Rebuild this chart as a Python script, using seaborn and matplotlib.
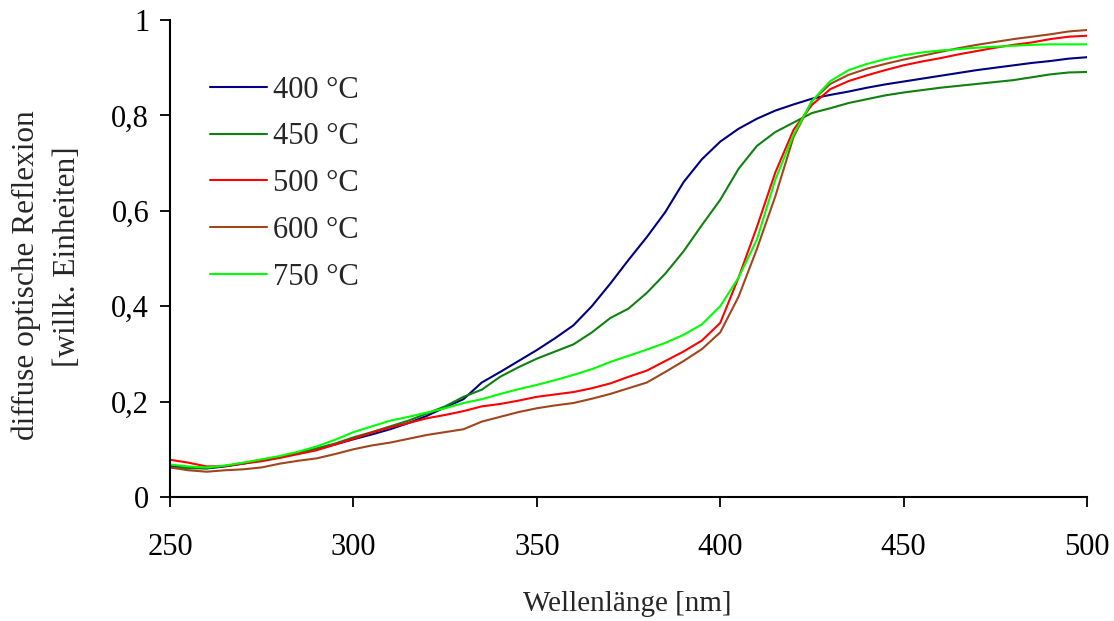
import matplotlib
matplotlib.use("Agg")
import matplotlib.pyplot as plt
import seaborn as sns
import pandas as pd
import numpy as np
from matplotlib.ticker import FuncFormatter

wavelength = list(range(250, 501, 5))

r400 = [0.065, 0.062, 0.060, 0.064, 0.070, 0.077, 0.084, 0.092, 0.100, 0.110,
        0.121, 0.131, 0.142, 0.155, 0.170, 0.188, 0.205, 0.240, 0.262, 0.285,
        0.308, 0.333, 0.360, 0.400, 0.447, 0.497, 0.545, 0.597, 0.660, 0.708,
        0.745, 0.772, 0.793, 0.810, 0.823, 0.835, 0.843, 0.850, 0.858, 0.865,
        0.871, 0.877, 0.883, 0.889, 0.895, 0.900, 0.905, 0.910, 0.914, 0.919,
        0.922]
r450 = [0.062, 0.060, 0.060, 0.065, 0.071, 0.078, 0.084, 0.092, 0.102, 0.112,
        0.125, 0.136, 0.148, 0.160, 0.175, 0.190, 0.210, 0.225, 0.252, 0.272,
        0.290, 0.305, 0.320, 0.345, 0.375, 0.395, 0.428, 0.468, 0.515, 0.570,
        0.623, 0.688, 0.736, 0.765, 0.785, 0.805, 0.815, 0.826, 0.834, 0.842,
        0.848, 0.853, 0.858, 0.862, 0.866, 0.870, 0.874, 0.880, 0.886, 0.890,
        0.891]
r500 = [0.078, 0.072, 0.064, 0.065, 0.070, 0.075, 0.082, 0.090, 0.098, 0.110,
        0.122, 0.135, 0.146, 0.155, 0.165, 0.172, 0.180, 0.190, 0.195, 0.202,
        0.210, 0.215, 0.220, 0.228, 0.238, 0.252, 0.265, 0.285, 0.305, 0.328,
        0.365, 0.460, 0.566, 0.680, 0.770, 0.822, 0.855, 0.872, 0.884, 0.895,
        0.905, 0.913, 0.920, 0.928, 0.935, 0.942, 0.948, 0.953, 0.960, 0.965,
        0.967]
r600 = [0.062, 0.056, 0.053, 0.056, 0.058, 0.062, 0.070, 0.076, 0.081, 0.090,
        0.100, 0.108, 0.114, 0.122, 0.130, 0.136, 0.142, 0.158, 0.168, 0.178,
        0.186, 0.192, 0.197, 0.206, 0.216, 0.228, 0.240, 0.262, 0.285, 0.310,
        0.345, 0.420, 0.520, 0.630, 0.755, 0.830, 0.866, 0.885, 0.898, 0.908,
        0.917, 0.925, 0.933, 0.941, 0.948, 0.954, 0.960, 0.965, 0.970, 0.976,
        0.979]
r750 = [0.068, 0.064, 0.062, 0.066, 0.072, 0.079, 0.086, 0.095, 0.106, 0.120,
        0.136, 0.148, 0.160, 0.168, 0.177, 0.186, 0.197, 0.205, 0.216, 0.226,
        0.235, 0.245, 0.256, 0.268, 0.283, 0.296, 0.309, 0.323, 0.340, 0.362,
        0.400, 0.460, 0.540, 0.665, 0.760, 0.830, 0.872, 0.895, 0.908, 0.918,
        0.926, 0.932, 0.936, 0.939, 0.942, 0.944, 0.946, 0.948, 0.949, 0.949,
        0.949]

series_labels = ["400 °C", "450 °C", "500 °C", "600 °C", "750 °C"]
series_values = [r400, r450, r500, r600, r750]
colors = ["#000080", "#108010", "#ff0000", "#a0461e", "#00ff00"]

xticks = [250, 300, 350, 400, 450, 500]
yticks = [0, 0.2, 0.4, 0.6, 0.8, 1.0]

rows = []
for lab, vals in zip(series_labels, series_values):
    for w, v in zip(wavelength, vals):
        rows.append({"wl": w, "refl": v, "series": lab})
df = pd.DataFrame(rows)

sns.set_style("ticks")
plt.rcParams["font.family"] = ["Liberation Serif", "DejaVu Serif"]

fig = plt.figure(figsize=(11.14, 6.21), dpi=100)
ax = fig.add_axes([0.1526, 0.1997, 0.8232, 0.7681])

sns.lineplot(data=df, x="wl", y="refl", hue="series", hue_order=series_labels,
             palette=colors, linewidth=1.5, ax=ax, estimator=None, sort=True)

ax.set_xlim(250, 500)
ax.set_ylim(0, 1)
ax.set_xticks(xticks)
ax.set_yticks(yticks)

def yfmt(v, pos):
    if abs(v) < 1e-9:
        return "0"
    if abs(v - 1) < 1e-9:
        return "1"
    return f"{v:.1f}".replace(".", ",")

ax.yaxis.set_major_formatter(FuncFormatter(yfmt))
ax.tick_params(axis="both", labelsize=22, length=7, width=1.3, colors="black")
ax.tick_params(axis="y", pad=8)
ax.tick_params(axis="x", pad=19)
for s in ["left", "bottom"]:
    ax.spines[s].set_linewidth(1.5)
    ax.spines[s].set_color("black")
sns.despine(ax=ax)

ax.set_xlabel("")
ax.set_ylabel("")
fig.text(0.563, 0.0274, "Wellenlänge [nm]", fontsize=21, ha="center", va="center")
fig.text(0.0238, 0.557, "diffuse optische Reflexion", fontsize=22.5,
         rotation=90, ha="center", va="center")
fig.text(0.0606, 0.586, "[willk. Einheiten]", fontsize=22.5,
         rotation=90, ha="center", va="center")

leg = ax.legend(loc="upper left", bbox_to_anchor=(0.03, 0.909), frameon=False,
                fontsize=22, handlelength=1.86, handletextpad=0.2,
                labelspacing=0.58, borderaxespad=0)
for line in leg.get_lines():
    line.set_linewidth(1.5)

fig.savefig("out.png", dpi=100)
